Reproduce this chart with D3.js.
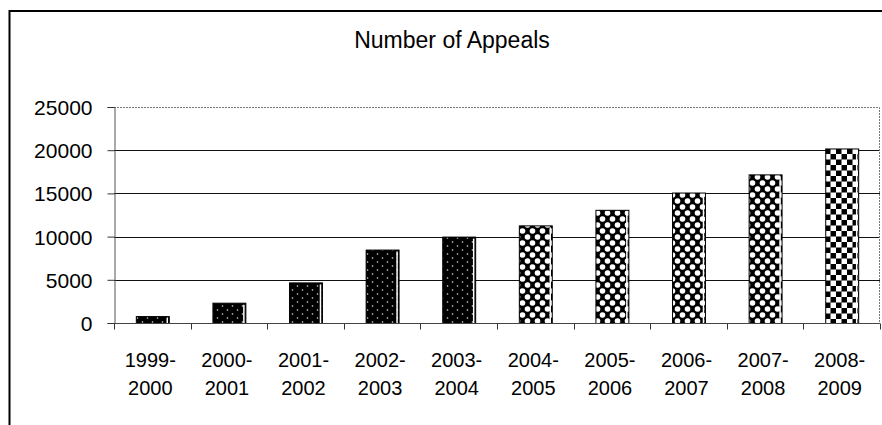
<!DOCTYPE html>
<html>
<head>
<meta charset="utf-8">
<script src="https://cdn.jsdelivr.net/npm/d3@7/dist/d3.min.js"></script>
<style>
  html, body { margin: 0; padding: 0; background: #fff; }
  svg { display: block; }
  text { font-family: "Liberation Sans", Arial, sans-serif; fill: #000; }
</style>
</head>
<body>
<svg id="chart" width="882" height="425"></svg>
<script>
const title = "Number of Appeals";
const categories = ["1999-2000", "2000-2001", "2001-2002", "2002-2003", "2003-2004",
                    "2004-2005", "2005-2006", "2006-2007", "2007-2008", "2008-2009"];
const values = [800, 2350, 4700, 8500, 10000, 11300, 13100, 15100, 17200, 20200];
const fillPatterns = ["dots", "dots", "dots", "dots", "dots",
                      "circles", "circles", "circles", "circles", "checker"];
const yTicks = [0, 5000, 10000, 15000, 20000, 25000];

const svg = d3.select("#chart");
const plot = { left: 114, right: 880, top: 107, bottom: 323 };

// patterns
const defs = svg.append("defs");
const pDots = defs.append("pattern").attr("id", "dots").attr("patternUnits", "userSpaceOnUse")
  .attr("width", 10).attr("height", 8);
pDots.append("rect").attr("width", 10).attr("height", 8).attr("fill", "#000");
pDots.append("circle").attr("cx", 2.5).attr("cy", 2).attr("r", 0.8).attr("fill", "#ddd");
pDots.append("circle").attr("cx", 7.5).attr("cy", 6).attr("r", 0.8).attr("fill", "#ddd");

const pCirc = defs.append("pattern").attr("id", "circles").attr("patternUnits", "userSpaceOnUse")
  .attr("width", 10).attr("height", 12);
pCirc.append("rect").attr("width", 10).attr("height", 12).attr("fill", "#000");
[[2.5, 3], [7.5, 9], [-2.5, 9], [12.5, 3]].forEach(([cx, cy]) =>
  pCirc.append("circle").attr("cx", cx).attr("cy", cy).attr("r", 2.8).attr("fill", "#fff"));

const pChk = defs.append("pattern").attr("id", "checker").attr("patternUnits", "userSpaceOnUse")
  .attr("width", 11).attr("height", 11);
pChk.append("rect").attr("width", 11).attr("height", 11).attr("fill", "#000");
pChk.append("rect").attr("x", 0).attr("y", 0).attr("width", 5.5).attr("height", 5.5).attr("fill", "#fff");
pChk.append("rect").attr("x", 5.5).attr("y", 5.5).attr("width", 5.5).attr("height", 5.5).attr("fill", "#fff");

// outer border
svg.append("rect").attr("x", 9.5).attr("y", 11).attr("width", 900).attr("height", 450)
  .attr("fill", "none").attr("stroke", "#000").attr("stroke-width", 2);

// scales
const x = d3.scaleBand().domain(categories).range([plot.left, plot.right])
  .paddingInner(0.57).paddingOuter(0.285);
const y = d3.scaleLinear().domain([0, 25000]).range([plot.bottom, plot.top]);

// title
svg.append("text").attr("x", 452).attr("y", 48).attr("text-anchor", "middle")
  .attr("font-size", 23).text(title);

// gridlines
svg.append("g").selectAll("line").data(yTicks.filter(t => t > 0 && t < 25000)).join("line")
  .attr("x1", plot.left).attr("x2", plot.right)
  .attr("y1", d => Math.round(y(d)) + 0.5).attr("y2", d => Math.round(y(d)) + 0.5)
  .attr("stroke", "#111").attr("stroke-width", 1);

// plot frame top/right
svg.append("path")
  .attr("d", `M${plot.left},${plot.top + 0.5}H${plot.right - 0.5}V${plot.bottom}`)
  .attr("fill", "none").attr("stroke", "#777").attr("stroke-width", 1)
  .attr("stroke-dasharray", "2,1");

// y axis
const yAxis = d3.axisLeft(y).tickValues(yTicks).tickSize(7).tickPadding(15)
  .tickFormat(d3.format("d"));
const gy = svg.append("g").attr("transform", `translate(${plot.left + 0.5},0)`).call(yAxis);
gy.select(".domain").attr("stroke", "#555");
gy.selectAll(".tick line").attr("stroke", "#333");
gy.selectAll(".tick text").attr("font-size", 21).attr("font-family", "Liberation Sans, Arial, sans-serif")
  .attr("fill", "#000").attr("dy", "0.36em");

// bars
const bars = svg.append("g").selectAll("g").data(categories).join("g");
bars.append("rect")
  .attr("x", d => x(d) + 0.5)
  .attr("y", (d, i) => y(values[i]) + 0.5)
  .attr("width", x.bandwidth())
  .attr("height", (d, i) => y(0) - y(values[i]))
  .attr("fill", (d, i) => `url(#${fillPatterns[i]})`)
  .attr("stroke", "#000").attr("stroke-width", 1);
bars.append("line")
  .attr("x1", d => x(d) + x.bandwidth() - 1.5).attr("x2", d => x(d) + x.bandwidth() - 1.5)
  .attr("y1", (d, i) => y(values[i]) + 2).attr("y2", y(0))
  .attr("stroke", "#fff").attr("stroke-width", 1.5);

// x axis
const gx = svg.append("g").attr("transform", `translate(0,${plot.bottom + 0.5})`);
gx.append("line").attr("x1", plot.left).attr("x2", plot.right).attr("stroke", "#444");
const step = x.step();
const bounds = categories.map(c => x(c) - step * x.paddingInner() / 2);
bounds.push(plot.right);
gx.selectAll("line.tk").data(bounds).join("line").attr("class", "tk")
  .attr("x1", d => Math.round(d) + 0.5).attr("x2", d => Math.round(d) + 0.5)
  .attr("y1", 0).attr("y2", 6).attr("stroke", "#333");

const labels = svg.append("g").selectAll("text").data(categories).join("text")
  .attr("text-anchor", "middle").attr("font-size", 20)
  .attr("transform", d => `translate(${x(d) + x.bandwidth() / 2 - 2},0)`);
labels.append("tspan").attr("x", 0).attr("y", 367).text(d => d.slice(0, d.indexOf("-") + 1));
labels.append("tspan").attr("x", 0).attr("y", 395).text(d => d.slice(d.indexOf("-") + 1));
</script>
</body>
</html>
